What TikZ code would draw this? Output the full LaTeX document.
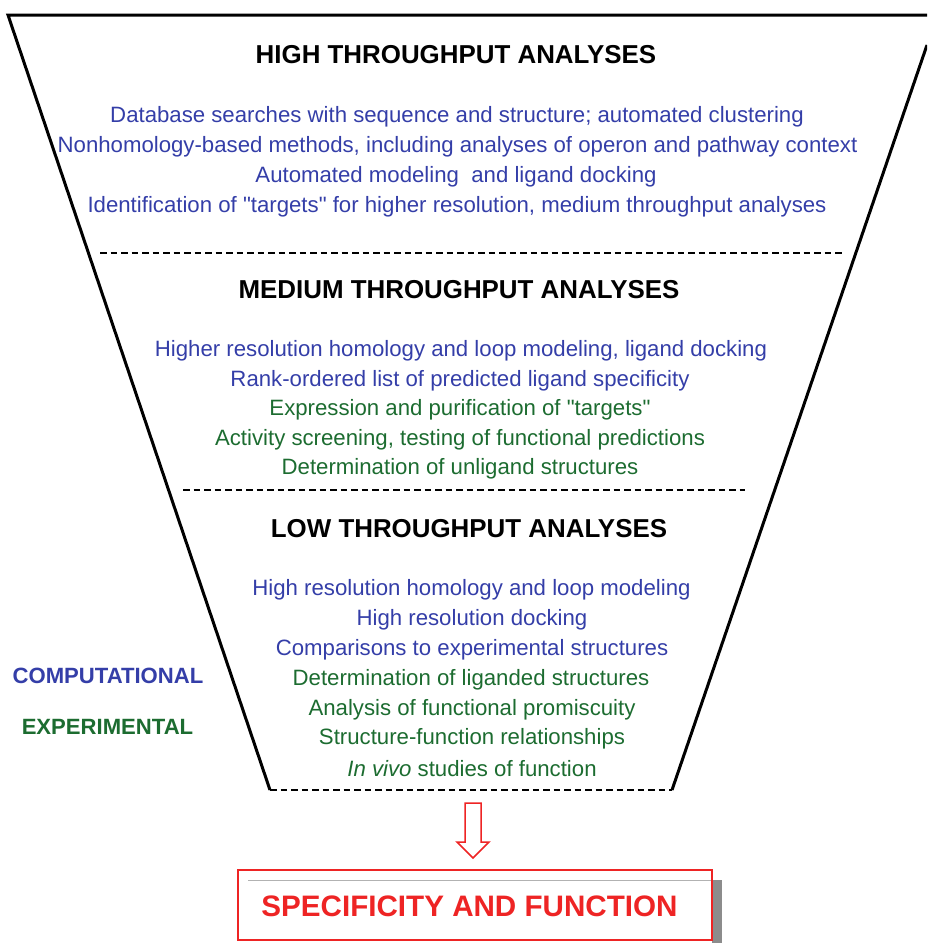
\documentclass[tikz,border=0pt]{standalone}
\usepackage{fontspec}
\setmainfont{Liberation Sans}[Ligatures=TeXOff]
\definecolor{cblue}{RGB}{52,62,168}
\definecolor{cgreen}{RGB}{28,108,48}
\definecolor{cred}{RGB}{238,36,36}
\tikzset{
  funnel/.style={line width=3pt, black},
  divider/.style={line width=2.2pt, black, dash pattern=on 6.5pt off 4pt},
  heading/.style={font=\fontsize{25.9}{30}\selectfont\bfseries, text=black, inner sep=0pt, yshift=-1.5pt},
  bline/.style={font=\fontsize{22.2}{26}\selectfont, text=cblue, inner sep=0pt, yshift=-2pt},
  gline/.style={font=\fontsize{22.2}{26}\selectfont, text=cgreen, inner sep=0pt, yshift=-2pt},
  sidelabel/.style={font=\fontsize{22.1}{26}\selectfont\bfseries, inner sep=0pt},
  resultbox/.style={draw=cred, line width=1.8pt, fill=white, minimum width=474pt, minimum height=70pt, inner sep=0pt},
  resulttext/.style={font=\fontsize{29.6}{34}\selectfont\bfseries, text=cred, inner sep=0pt},
}
\begin{document}
\begin{tikzpicture}[x=1pt,y=-1pt]
\useasboundingbox (0,0) rectangle (927,943);
% funnel outline
\coordinate (tl) at (8,15);
\coordinate (tr) at (936,15);
\coordinate (bl) at (270,790);
\coordinate (br) at (672,790);
\begin{scope}
\clip (0,0) rectangle (927,943);
\draw[funnel, line join=miter] (bl) -- (tl) -- (tr);
\draw[funnel] (927,45) -- (br);
\end{scope}
\draw[divider] (bl) -- (br);
\coordinate (d1l) at (100,253);
\coordinate (d1r) at (845,253);
\coordinate (d2l) at (183,490);
\coordinate (d2r) at (745,490);
\draw[divider] (d1l) -- (d1r);
\draw[divider] (d2l) -- (d2r);

% high throughput
\node[heading] (h1) at (456,53) {HIGH THROUGHPUT ANALYSES};
\node[bline] (h1a) at (457,115) {Database searches with sequence and structure; automated clustering};
\node[bline] (h1b) at (457.5,145) {Nonhomology-based methods, including analyses of operon and pathway context};
\node[bline] (h1c) at (456,175) {Automated modeling\ \ and ligand docking};
\node[bline] (h1d) at (457,205) {Identification of "targets" for higher resolution, medium throughput analyses};

% medium throughput
\node[heading] (h2) at (459,288) {MEDIUM THROUGHPUT ANALYSES};
\node[bline] (h2a) at (461,349) {Higher resolution homology and loop modeling, ligand docking};
\node[bline] (h2b) at (460,378.5) {Rank-ordered list of predicted ligand specificity};
\node[gline] (h2c) at (460,408) {Expression and purification of "targets"};
\node[gline] (h2d) at (460,437.5) {Activity screening, testing of functional predictions};
\node[gline] (h2e) at (460,467) {Determination of unligand structures};

% low throughput
\node[heading] (h3) at (469,527) {LOW THROUGHPUT ANALYSES};
\node[bline] (h3a) at (471.5,588) {High resolution homology and loop modeling};
\node[bline] (h3b) at (472,618) {High resolution docking};
\node[bline] (h3c) at (472,648) {Comparisons to experimental structures};
\node[gline] (h3d) at (471,678) {Determination of liganded structures};
\node[gline] (h3e) at (472,707.5) {Analysis of functional promiscuity};
\node[gline] (h3f) at (472,737) {Structure-function relationships};
\node[gline] (h3g) at (472,767) {\textit{In vivo} studies of function};

% side labels
\node[sidelabel, text=cblue] (comp) at (108,676) {COMPUTATIONAL};
\node[sidelabel, text=cgreen] (expt) at (107.5,727) {EXPERIMENTAL};

% hollow arrow
\draw[cred, line width=1.5pt, line join=miter, fill=white]
  (465,803) -- (481,803) -- (481,842) -- (489,842) -- (473,858) -- (457,842) -- (465,842) -- cycle;

% result box with shadow
\fill[black!45] (712,880) rectangle (722,943);
\node[resultbox] (result) at (475,905) {};
\draw[black!30, line width=1.2pt] (248,880.5) -- (711,880.5);
\node[resulttext] (rtext) at (469.5,906) {SPECIFICITY AND FUNCTION};
\end{tikzpicture}
\end{document}
